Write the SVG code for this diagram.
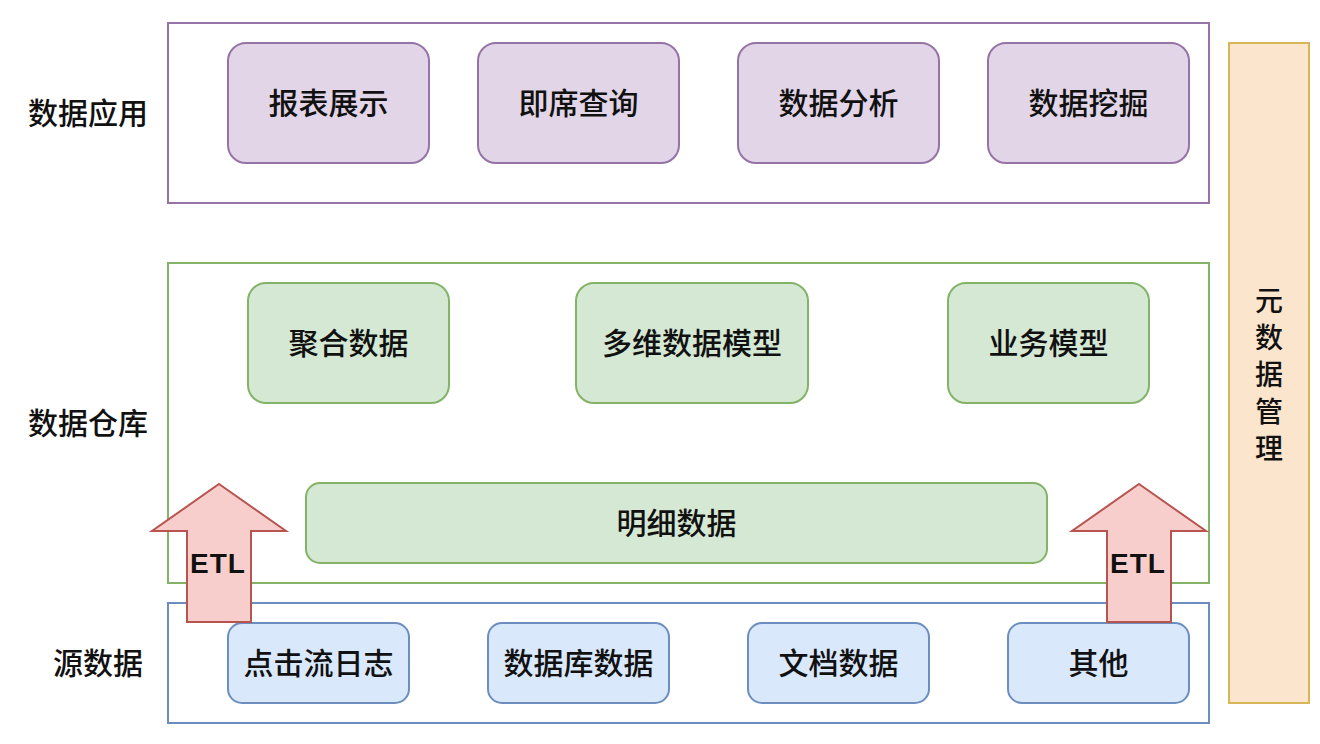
<svg xmlns="http://www.w3.org/2000/svg" width="1320" height="744" viewBox="0 0 1320 744">
<style>
text{font-family:"Noto Sans CJK SC","Noto Sans",sans-serif;font-size:30px;font-weight:500;fill:#111;text-anchor:middle;dominant-baseline:central}
.pur{fill:#e1d5e7;stroke:#9673a6;stroke-width:2}
.grn{fill:#d5e8d4;stroke:#82b366;stroke-width:2}
.blu{fill:#dae8fc;stroke:#6c8ebf;stroke-width:2}
.frame{fill:#fff;stroke-width:2}
.etl{fill:#f8cecc;stroke:#b85450;stroke-width:2}
.etlt{font-family:"Liberation Sans",Arial,sans-serif;font-weight:bold;font-size:28px;letter-spacing:1px}
.vt{font-size:28px}
</style>
<g id="layer-app">
<rect x="168" y="23" width="1041" height="180" class="frame" stroke="#9673a6"/>
<text x="88" y="111">数据应用</text>
</g>
<g id="layer-dw">
<rect x="168" y="263" width="1041" height="320" class="frame" stroke="#82b366"/>
<text x="88" y="421">数据仓库</text>
</g>
<g id="layer-src">
<rect x="168" y="603" width="1041" height="120" class="frame" stroke="#6c8ebf"/>
<text x="98" y="661">源数据</text>
</g>
<g id="n-report"><rect x="228" y="43" width="201" height="120" rx="18" class="pur"/><text x="328.5" y="101">报表展示</text></g>
<g id="n-query"><rect x="478" y="43" width="201" height="120" rx="18" class="pur"/><text x="578.5" y="101">即席查询</text></g>
<g id="n-analysis"><rect x="738" y="43" width="201" height="120" rx="18" class="pur"/><text x="838.5" y="101">数据分析</text></g>
<g id="n-mining"><rect x="988" y="43" width="201" height="120" rx="18" class="pur"/><text x="1088.5" y="101">数据挖掘</text></g>
<g id="n-agg"><rect x="248" y="283" width="201" height="120" rx="18" class="grn"/><text x="348.5" y="341">聚合数据</text></g>
<g id="n-olap"><rect x="576" y="283" width="232" height="120" rx="18" class="grn"/><text x="692" y="341">多维数据模型</text></g>
<g id="n-biz"><rect x="948" y="283" width="201" height="120" rx="18" class="grn"/><text x="1048.5" y="341">业务模型</text></g>
<g id="n-detail"><rect x="306" y="483" width="741" height="80" rx="14" class="grn"/><text x="676.5" y="521">明细数据</text></g>
<g id="n-click"><rect x="228" y="623" width="181" height="80" rx="14" class="blu"/><text x="318.5" y="661">点击流日志</text></g>
<g id="n-db"><rect x="488" y="623" width="181" height="80" rx="14" class="blu"/><text x="578.5" y="661">数据库数据</text></g>
<g id="n-doc"><rect x="748" y="623" width="181" height="80" rx="14" class="blu"/><text x="838.5" y="661">文档数据</text></g>
<g id="n-other"><rect x="1008" y="623" width="181" height="80" rx="14" class="blu"/><text x="1098.5" y="661">其他</text></g>
<g id="n-meta">
<rect x="1229" y="43" width="80" height="660" fill="#fce5cd" stroke="#d6b656" stroke-width="2"/>
<text x="1269" y="299" class="vt">元</text>
<text x="1269" y="336" class="vt">数</text>
<text x="1269" y="373" class="vt">据</text>
<text x="1269" y="410" class="vt">管</text>
<text x="1269" y="447" class="vt">理</text>
</g>
<g id="connectors">
<g id="etl-left">
<polygon points="219,484 286,531 251,531 251,622 187,622 187,531 152,531" class="etl"/>
<text x="218" y="563" class="etlt">ETL</text>
</g>
<g id="etl-right">
<polygon points="1139,484 1206,531 1171,531 1171,622 1107,622 1107,531 1072,531" class="etl"/>
<text x="1138" y="563" class="etlt">ETL</text>
</g>
</g>
</svg>
